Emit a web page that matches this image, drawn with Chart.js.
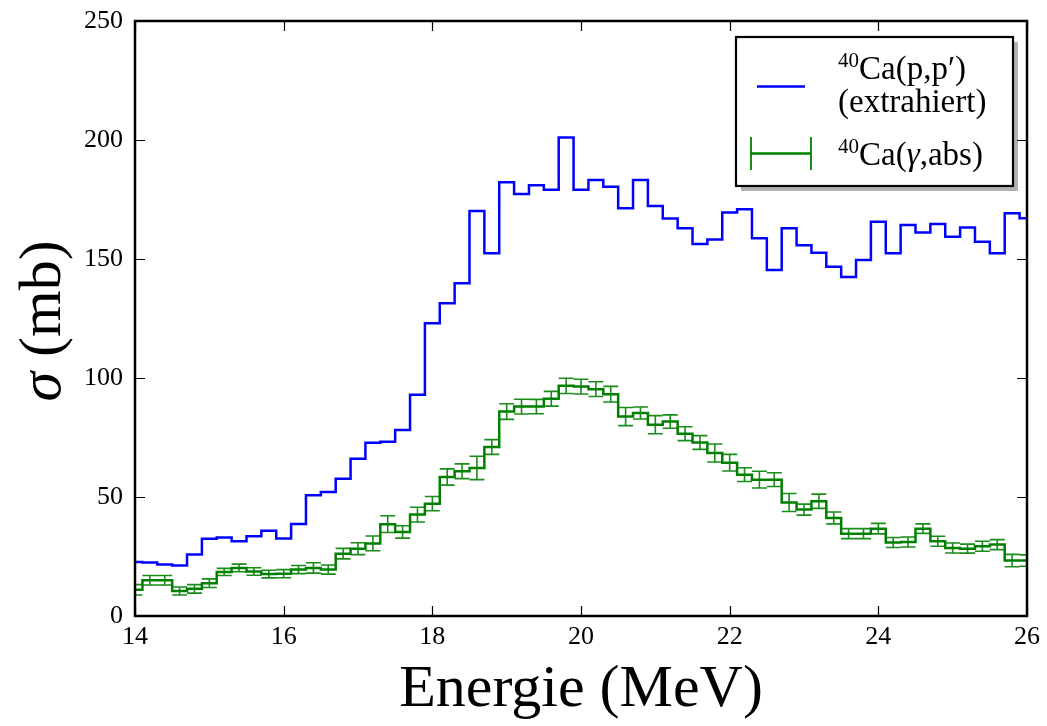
<!DOCTYPE html>
<html>
<head>
<meta charset="utf-8">
<script src="https://cdn.jsdelivr.net/npm/chart.js@4"></script>
<style>
  html, body { margin: 0; padding: 0; background: #fff; }
  #wrap { width: 1047px; height: 726px; }
</style>
</head>
<body>
<div id="wrap"><canvas id="chart" width="1047" height="726"></canvas></div>
<script>
// bin centres (MeV)
const energy = [
  14.0, 14.2, 14.4, 14.6, 14.8, 15.0, 15.2, 15.4, 15.6, 15.8,
  16.0, 16.2, 16.4, 16.6, 16.8, 17.0, 17.2, 17.4, 17.6, 17.8,
  18.0, 18.2, 18.4, 18.6, 18.8, 19.0, 19.2, 19.4, 19.6, 19.8,
  20.0, 20.2, 20.4, 20.6, 20.8, 21.0, 21.2, 21.4, 21.6, 21.8,
  22.0, 22.2, 22.4, 22.6, 22.8, 23.0, 23.2, 23.4, 23.6, 23.8,
  24.0, 24.2, 24.4, 24.6, 24.8, 25.0, 25.2, 25.4, 25.6, 25.8,
  26.0
];
// 40Ca(p,p') extracted, mb
const ppValues = [
  22.7, 22.5, 21.6, 21.2, 25.8, 32.5, 33.0, 31.4, 33.5, 35.8,
  32.6, 38.7, 50.7, 52.1, 57.7, 66.1, 72.8, 73.2, 78.1, 93.0,
  123.0, 131.4, 139.8, 170.2, 152.4, 182.2, 177.3, 181.0, 179.1, 201.1,
  179.1, 183.2, 180.4, 171.3, 183.2, 172.3, 167.0, 162.9, 156.3, 158.2,
  169.5, 170.9, 158.7, 145.4, 162.9, 155.8, 152.6, 146.7, 142.4, 149.6,
  165.7, 152.4, 164.3, 161.1, 164.7, 159.4, 163.2, 157.2, 152.4, 169.2,
  167.1
];
// 40Ca(gamma,abs), mb
const absValues = [
  11.0, 15.0, 15.0, 10.5, 11.4, 13.8, 18.5, 20.2, 18.7, 17.6,
  17.8, 19.5, 20.2, 19.5, 26.2, 28.3, 30.5, 38.6, 35.3, 42.6,
  47.2, 58.4, 60.8, 62.2, 71.0, 85.9, 88.0, 88.0, 91.3, 96.7,
  96.4, 95.3, 93.2, 83.8, 85.3, 80.4, 81.7, 76.6, 72.9, 68.5,
  64.4, 59.4, 57.3, 57.3, 47.7, 44.7, 48.2, 41.2, 34.6, 34.6,
  36.7, 30.9, 31.1, 36.7, 31.4, 28.6, 28.3, 29.3, 30.0, 23.3,
  23.3
];
const absErrors = [
  2.2, 2.0, 2.0, 1.7, 1.8, 1.8, 1.5, 1.6, 1.6, 1.6,
  1.7, 1.7, 2.2, 1.9, 2.2, 2.5, 3.1, 3.5, 2.6, 3.1,
  3.0, 3.4, 3.1, 4.9, 3.1, 3.3, 3.1, 3.0, 3.1, 3.2,
  3.1, 3.1, 3.3, 3.8, 2.5, 3.8, 2.8, 2.9, 2.9, 3.8,
  3.5, 2.9, 3.5, 2.9, 3.8, 2.3, 3.0, 2.5, 2.1, 2.1,
  2.2, 2.1, 2.1, 2.0, 2.1, 2.1, 1.9, 2.1, 2.1, 2.6,
  2.4
];
const xTicks = [14, 16, 18, 20, 22, 24, 26];
const yTicks = [0, 50, 100, 150, 200, 250];

const BLUE = "#0000ff";
const GREEN = "#008000";
const SERIF = "'Liberation Serif', 'DejaVu Serif', serif";

// error bars, frame with inward ticks, axis titles, legend
const decor = {
  id: "decor",
  afterDatasetsDraw(chart) {
    const { ctx, chartArea: a, scales: { x, y } } = chart;
    ctx.save();
    ctx.beginPath();
    ctx.rect(a.left, a.top, a.right - a.left, a.bottom - a.top);
    ctx.clip();
    ctx.strokeStyle = "rgba(0,128,0,0.9)";
    ctx.lineWidth = 1.6;
    const cap = 7.5;
    energy.forEach((e, i) => {
      const px = x.getPixelForValue(e);
      const hi = y.getPixelForValue(absValues[i] + absErrors[i]);
      const lo = y.getPixelForValue(absValues[i] - absErrors[i]);
      ctx.beginPath();
      ctx.moveTo(px, hi); ctx.lineTo(px, lo);
      ctx.moveTo(px - cap, hi); ctx.lineTo(px + cap, hi);
      ctx.moveTo(px - cap, lo); ctx.lineTo(px + cap, lo);
      ctx.stroke();
    });
    ctx.restore();
  },
  afterDraw(chart) {
    const { ctx, chartArea: a, scales: { x, y } } = chart;
    ctx.save();
    // ticks pointing inward, all four sides
    ctx.strokeStyle = "#000";
    ctx.lineWidth = 1.2;
    const tl = 10;
    ctx.beginPath();
    xTicks.forEach(v => {
      const px = Math.round(x.getPixelForValue(v)) + 0.5;
      ctx.moveTo(px, a.bottom); ctx.lineTo(px, a.bottom - tl);
      ctx.moveTo(px, a.top); ctx.lineTo(px, a.top + tl);
    });
    yTicks.forEach(v => {
      const py = Math.round(y.getPixelForValue(v)) + 0.5;
      ctx.moveTo(a.left, py); ctx.lineTo(a.left + tl, py);
      ctx.moveTo(a.right, py); ctx.lineTo(a.right - tl, py);
    });
    ctx.stroke();
    // frame
    ctx.lineWidth = 2.5;
    ctx.strokeRect(a.left, a.top, a.right - a.left, a.bottom - a.top);

    // axis titles
    ctx.fillStyle = "#000";
    ctx.font = `60px ${SERIF}`;
    ctx.textAlign = "center";
    ctx.textBaseline = "alphabetic";
    ctx.fillText("Energie (MeV)", (a.left + a.right) / 2, 706);

    ctx.save();
    ctx.translate(44, 321);
    ctx.rotate(-Math.PI / 2);
    ctx.textBaseline = "middle";
    ctx.textAlign = "left";
    ctx.font = `italic 60px ${SERIF}`;
    const wSig = ctx.measureText("σ").width;
    ctx.font = `60px ${SERIF}`;
    const wRest = ctx.measureText(" (mb)").width;
    let sx = -(wSig + wRest) / 2;
    ctx.font = `italic 60px ${SERIF}`;
    ctx.fillText("σ", sx, 0);
    ctx.font = `60px ${SERIF}`;
    ctx.fillText(" (mb)", sx + wSig, 0);
    ctx.restore();

    // legend
    const lx = 736, ly = 37, lw = 277, lh = 149;
    ctx.fillStyle = "rgba(0,0,0,0.3)";
    ctx.fillRect(lx + 5, ly + 5, lw, lh);
    ctx.fillStyle = "#fff";
    ctx.fillRect(lx, ly, lw, lh);
    ctx.lineWidth = 2.2;
    ctx.strokeStyle = "#000";
    ctx.strokeRect(lx, ly, lw, lh);

    ctx.strokeStyle = BLUE;
    ctx.lineWidth = 2.5;
    ctx.beginPath();
    ctx.moveTo(757, 86.5); ctx.lineTo(805, 86.5);
    ctx.stroke();

    ctx.strokeStyle = GREEN;
    ctx.lineWidth = 2.5;
    ctx.beginPath();
    ctx.moveTo(751, 153.5); ctx.lineTo(811, 153.5);
    ctx.stroke();
    ctx.lineWidth = 1.8;
    ctx.beginPath();
    ctx.moveTo(751, 137); ctx.lineTo(751, 170);
    ctx.moveTo(811, 137); ctx.lineTo(811, 170);
    ctx.stroke();

    ctx.fillStyle = "#000";
    ctx.textAlign = "left";
    ctx.textBaseline = "alphabetic";
    const runs = (parts, x0, y0) => {
      let cx = x0;
      parts.forEach(([t, f, dy]) => {
        ctx.font = f;
        ctx.fillText(t, cx, y0 + (dy || 0));
        cx += ctx.measureText(t).width;
      });
    };
    const sup = `21px ${SERIF}`, main = `33px ${SERIF}`, ital = `italic 33px ${SERIF}`;
    runs([["40", sup, -12], ["Ca(p,p′)", main]], 838, 79);
    runs([["(extrahiert)", main]], 838, 112);
    runs([["40", sup, -12], ["Ca(", main], ["γ", ital], [",abs)", main]], 838, 165);
    ctx.restore();
  }
};

const ctx = document.getElementById("chart").getContext("2d");
new Chart(ctx, {
  type: "line",
  data: {
    datasets: [
      {
        label: "40Ca(p,p′) (extrahiert)",
        data: energy.map((e, i) => ({ x: e, y: ppValues[i] })),
        borderColor: BLUE,
        borderWidth: 2.5,
        stepped: "middle",
        pointRadius: 0,
        fill: false
      },
      {
        label: "40Ca(γ,abs)",
        data: energy.map((e, i) => ({ x: e, y: absValues[i] })),
        borderColor: GREEN,
        borderWidth: 2.5,
        stepped: "middle",
        pointRadius: 0,
        fill: false
      }
    ]
  },
  options: {
    responsive: false,
    animation: false,
    devicePixelRatio: 1,
    layout: { padding: { top: 21, right: 20, left: 0, bottom: 0 } },
    plugins: { legend: { display: false }, tooltip: { enabled: false } },
    scales: {
      x: {
        type: "linear",
        min: 14, max: 26,
        afterFit: s => { s.height = 110; s.paddingLeft = 0; s.paddingRight = 0; },
        afterBuildTicks: s => { s.ticks = xTicks.map(v => ({ value: v })); },
        grid: { display: false, drawTicks: false },
        border: { display: false },
        ticks: { color: "#000", padding: 6, font: { family: SERIF, size: 26 } }
      },
      y: {
        min: 0, max: 250,
        afterFit: s => { s.width = 135; s.paddingTop = 0; s.paddingBottom = 0; },
        afterBuildTicks: s => { s.ticks = yTicks.map(v => ({ value: v })); },
        grid: { display: false, drawTicks: false },
        border: { display: false },
        ticks: { color: "#000", padding: 12, font: { family: SERIF, size: 26 } }
      }
    }
  },
  plugins: [decor]
});
</script>
</body>
</html>
